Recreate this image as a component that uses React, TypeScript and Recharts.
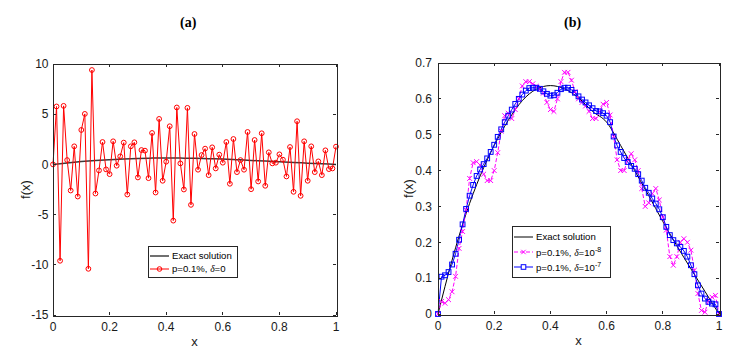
import React from 'react';
import { LineChart, Line, XAxis, YAxis } from 'recharts';

// noisy reconstruction, p=0.1%, delta=0 (panel a), 81 nodes on [0,1]
const RED_NOISY = [
  0, 5.77, -9.6, 5.83, 0.43, -2.6, 1.8, -3.2, 3.43, 5.03,
  -10.4, 9.4, -2.9, -0.6, 2.23, -0.5, -0.97, 2.3, -0.13, 0.8,
  2.17, -3.0, 1.8, 2.2, -1.3, 1.43, 1.37, -1.37, 3.13, -2.8,
  4.53, -1.63, 0.27, 3.8, -5.6, 5.67, 0.1, -2.5, 5.63, -4.03,
  3.03, -0.53, 0.93, 1.57, -1.07, 1.7, -0.4, 0.97, 0.17, 2.23,
  -1.93, 2.53, -0.77, 0.43, -0.53, 3.23, -2.47, 2.43, -1.7, 3.1,
  -2.13, 1.2, 0.1, 0.17, 1.0, 0.47, -1.2, 1.73, -2.73, 4.3,
  -3.13, 2.3, -1.63, 1.8, -0.77, 0.3, -1.07, 1.4, -0.47, -0.4,
  1.77,
];

// panel b, delta = 1e-8
const MAGENTA = [
  0, 0.035, 0.03, 0.04, 0.062, 0.105, 0.183, 0.23, 0.29, 0.378,
  0.422, 0.425, 0.415, 0.39, 0.372, 0.372, 0.4, 0.45, 0.51, 0.553,
  0.56, 0.545, 0.57, 0.6, 0.636, 0.648, 0.648, 0.642, 0.635, 0.627,
  0.616, 0.59, 0.57, 0.565, 0.6, 0.648, 0.674, 0.674, 0.652, 0.62,
  0.6, 0.59, 0.58, 0.565, 0.545, 0.545, 0.565, 0.585, 0.59, 0.555,
  0.495, 0.43, 0.4, 0.4, 0.43, 0.447, 0.43, 0.4, 0.35, 0.3,
  0.31, 0.336, 0.35, 0.318, 0.27, 0.234, 0.16, 0.136, 0.16, 0.2,
  0.21, 0.2, 0.178, 0.122, 0.057, 0.01, 0.005, 0.038, 0.047, 0.052,
  0,
];

// panel b, delta = 1e-7
const BLUE = [
  0, 0.104, 0.108, 0.117, 0.138, 0.168, 0.207, 0.25, 0.293, 0.33,
  0.36, 0.385, 0.403, 0.418, 0.434, 0.452, 0.472, 0.494, 0.515, 0.535,
  0.553, 0.57, 0.586, 0.6, 0.612, 0.623, 0.63, 0.631, 0.631, 0.628,
  0.621, 0.614, 0.609, 0.61, 0.617, 0.627, 0.631, 0.631, 0.625, 0.617,
  0.607, 0.598, 0.59, 0.582, 0.574, 0.566, 0.565, 0.56, 0.553, 0.535,
  0.495, 0.47, 0.452, 0.435, 0.424, 0.413, 0.405, 0.39, 0.372, 0.352,
  0.338, 0.322, 0.308, 0.292, 0.27, 0.243, 0.22, 0.206, 0.197, 0.187,
  0.176, 0.16, 0.136, 0.111, 0.08, 0.057, 0.043, 0.034, 0.029, 0.027,
  0,
];

// exact solution, read every 0.05 (every 4th node)
const EXACT_Y = [0, 0.15, 0.28, 0.385, 0.47, 0.54, 0.595, 0.627, 0.637, 0.628, 0.603, 0.565, 0.535, 0.47, 0.4, 0.33, 0.258, 0.19, 0.126, 0.063, 0];
const EXACT_EVERY = 4;

const X_TICKS = [0, 0.2, 0.4, 0.6, 0.8, 1];
const Y_TICKS_A = [-15, -10, -5, 0, 5, 10];
const Y_TICKS_B = [0, 0.1, 0.2, 0.3, 0.4, 0.5, 0.6, 0.7];

const N = RED_NOISY.length - 1;
const nodeData = RED_NOISY.map((v, i) => ({
  x: i / N,
  red: v,
  mag: MAGENTA[i],
  blue: BLUE[i],
  exact: i % EXACT_EVERY === 0 ? EXACT_Y[i / EXACT_EVERY] : null,
}));

const AXIS = '#262626';
const SANS = '"Liberation Sans", Arial, sans-serif';
const tickStyle = { fontFamily: SANS, fontSize: 12, fill: '#1a1a1a' };
const labelStyle = { fontFamily: SANS, fontSize: 13, fill: '#1a1a1a', textAnchor: 'middle' as const };

const CW = 369;
const CH = 353;
const Y_AXIS_W = 40;
const X_AXIS_H = 20;
const TICK_LEN = 3;

const MARGIN_A = { top: 64, right: 33, bottom: 18, left: 13 };
const MARGIN_B = { top: 63, right: 19, bottom: 19, left: 29 };

const Circle = (p: any) =>
  p.cx == null ? <g /> : <circle cx={p.cx} cy={p.cy} r={2.4} fill="none" stroke="#FF0000" strokeWidth={1} />;
const Square = (p: any) =>
  p.cx == null ? <g /> : <rect x={p.cx - 2.4} y={p.cy - 2.4} width={4.8} height={4.8} fill="none" stroke="#0000FF" strokeWidth={1} />;
const Cross = (p: any) =>
  p.cx == null ? <g /> : (
    <path
      d={`M${p.cx - 2.4},${p.cy - 2.4}L${p.cx + 2.4},${p.cy + 2.4}M${p.cx - 2.4},${p.cy + 2.4}L${p.cx + 2.4},${p.cy - 2.4}`}
      stroke="#FF00FF"
      strokeWidth={1}
    />
  );

// MATLAB-style box with inward ticks around the plot area of one chart (HTML, so it always shows)
const Frame = ({ offsetX, margin, xTicks, yTicks, yDom }: any) => {
  const left = offsetX + margin.left + Y_AXIS_W;
  const top = margin.top;
  const w = CW - margin.left - margin.right - Y_AXIS_W;
  const h = CH - margin.top - margin.bottom - X_AXIS_H;
  const tx = (t: number) => t * w;
  const ty = (t: number) => h - ((t - yDom[0]) / (yDom[1] - yDom[0])) * h;
  const mark = { position: 'absolute' as const, background: AXIS };
  return (
    <div style={{ position: 'absolute', left, top, width: w, height: h, pointerEvents: 'none' }}>
      <div style={{ position: 'absolute', left: -0.5, top: -0.5, width: w, height: h, border: `1px solid ${AXIS}` }} />
      {xTicks.map((t: number) => (
        <React.Fragment key={`x${t}`}>
          <div style={{ ...mark, left: tx(t) - 0.5, top: h - TICK_LEN, width: 1, height: TICK_LEN }} />
          <div style={{ ...mark, left: tx(t) - 0.5, top: 0, width: 1, height: TICK_LEN }} />
        </React.Fragment>
      ))}
      {yTicks.map((t: number) => (
        <React.Fragment key={`y${t}`}>
          <div style={{ ...mark, left: 0, top: ty(t) - 0.5, width: TICK_LEN, height: 1 }} />
          <div style={{ ...mark, left: w - TICK_LEN, top: ty(t) - 0.5, width: TICK_LEN, height: 1 }} />
        </React.Fragment>
      ))}
    </div>
  );
};

const legendFont = { fontFamily: SANS, fontSize: 9.6, color: '#000', lineHeight: '12px' };
const Delta = () => <span style={{ fontFamily: '"Liberation Serif", serif', fontStyle: 'italic' }}>δ</span>;

const Row = ({ icon, children, h }: any) => (
  <div style={{ display: 'flex', alignItems: 'center', height: h, whiteSpace: 'nowrap' }}>
    <svg width={20} height={10} style={{ marginRight: 2, flex: 'none' }}>{icon}</svg>
    <span>{children}</span>
  </div>
);

const boxStyle = {
  ...legendFont,
  position: 'absolute' as const,
  background: '#fff',
  border: '1px solid #262626',
  boxSizing: 'border-box' as const,
};

const LegendA = () => (
  <div style={{ ...boxStyle, left: 148, top: 246, width: 90, height: 32, padding: '2px 0 0 1px' }}>
    <Row h={13} icon={<line x1={0} y1={5} x2={19} y2={5} stroke="#333" strokeWidth={1.4} />}>Exact solution</Row>
    <Row h={13} icon={<g><line x1={0} y1={5} x2={19} y2={5} stroke="#FF0000" /><circle cx={9.5} cy={5} r={2.3} fill="none" stroke="#FF0000" /></g>}>
      p=0.1%, <Delta />=0
    </Row>
  </div>
);

const sup = { fontSize: 7, verticalAlign: 4 };

const LegendB = () => (
  <div style={{ ...boxStyle, left: 512, top: 226, width: 99, height: 52, padding: '2px 0 0 1px' }}>
    <Row h={15} icon={<line x1={0} y1={5} x2={19} y2={5} stroke="#000" />}>Exact solution</Row>
    <Row h={15} icon={<g><line x1={0} y1={5} x2={19} y2={5} stroke="#FF00FF" strokeDasharray="4 2" /><path d="M7.3,2.8L11.7,7.2M7.3,7.2L11.7,2.8" stroke="#FF00FF" /></g>}>
      p=0.1%, <Delta />=10<sup style={sup}>-8</sup>
    </Row>
    <Row h={15} icon={<g><line x1={0} y1={5} x2={19} y2={5} stroke="#0000FF" /><rect x={7.2} y={2.7} width={4.6} height={4.6} fill="#fff" stroke="#0000FF" /></g>}>
      p=0.1%, <Delta />=10<sup style={sup}>-7</sup>
    </Row>
  </div>
);

const titleStyle = {
  position: 'absolute' as const,
  top: 15,
  fontFamily: '"Liberation Serif", "Times New Roman", serif',
  fontWeight: 'bold' as const,
  fontSize: 14,
  color: '#000',
};

export default function App() {
  return (
    <div style={{ position: 'absolute', left: 0, top: 0, width: 738, height: 353, background: '#fff' }}>
      <div style={{ ...titleStyle, left: 180 }}>(a)</div>
      <div style={{ ...titleStyle, left: 564 }}>(b)</div>

      {/* panel (a) */}
      <div style={{ position: 'absolute', left: 0, top: 0 }}>
        <LineChart width={CW} height={CH} data={nodeData} margin={MARGIN_A}>
          <XAxis
            dataKey="x" type="number" domain={[0, 1]} ticks={X_TICKS} height={X_AXIS_H}
            axisLine={false} tickLine={false} tickSize={0} tickMargin={7} tick={tickStyle}
            label={{ value: 'x', position: 'bottom', offset: 2, style: labelStyle }}
          />
          <YAxis
            type="number" domain={[-15, 10]} ticks={Y_TICKS_A} width={Y_AXIS_W}
            axisLine={false} tickLine={false} tickSize={0} tickMargin={4.5} tick={tickStyle}
            label={{ value: 'f(x)', angle: -90, position: 'insideLeft', offset: 12, style: labelStyle }}
          />
          <Line dataKey="exact" type="monotone" connectNulls stroke="#3a3a3a" strokeWidth={1.5} dot={false} isAnimationActive={false} />
          <Line dataKey="red" type="linear" stroke="#FF0000" strokeWidth={1} dot={<Circle />} isAnimationActive={false} />
        </LineChart>
      </div>

      {/* panel (b) */}
      <div style={{ position: 'absolute', left: CW, top: 0 }}>
        <LineChart width={CW} height={CH} data={nodeData} margin={MARGIN_B}>
          <XAxis
            dataKey="x" type="number" domain={[0, 1]} ticks={X_TICKS} height={X_AXIS_H}
            axisLine={false} tickLine={false} tickSize={0} tickMargin={7} tick={tickStyle}
            label={{ value: 'x', position: 'bottom', offset: 2, style: labelStyle }}
          />
          <YAxis
            type="number" domain={[0, 0.7]} ticks={Y_TICKS_B} width={Y_AXIS_W}
            axisLine={false} tickLine={false} tickSize={0} tickMargin={6} tick={tickStyle}
            label={{ value: 'f(x)', angle: -90, position: 'insideLeft', offset: 10, style: labelStyle }}
          />
          <Line dataKey="exact" type="monotone" connectNulls stroke="#000" strokeWidth={1} dot={false} isAnimationActive={false} />
          <Line dataKey="mag" type="linear" stroke="#FF00FF" strokeWidth={1} strokeDasharray="4 2" dot={<Cross />} isAnimationActive={false} />
          <Line dataKey="blue" type="linear" stroke="#0000FF" strokeWidth={1} dot={<Square />} isAnimationActive={false} />
        </LineChart>
      </div>

      <Frame offsetX={0} margin={MARGIN_A} xTicks={X_TICKS} yTicks={Y_TICKS_A} yDom={[-15, 10]} />
      <Frame offsetX={CW} margin={MARGIN_B} xTicks={X_TICKS} yTicks={Y_TICKS_B} yDom={[0, 0.7]} />

      <LegendA />
      <LegendB />
    </div>
  );
}
